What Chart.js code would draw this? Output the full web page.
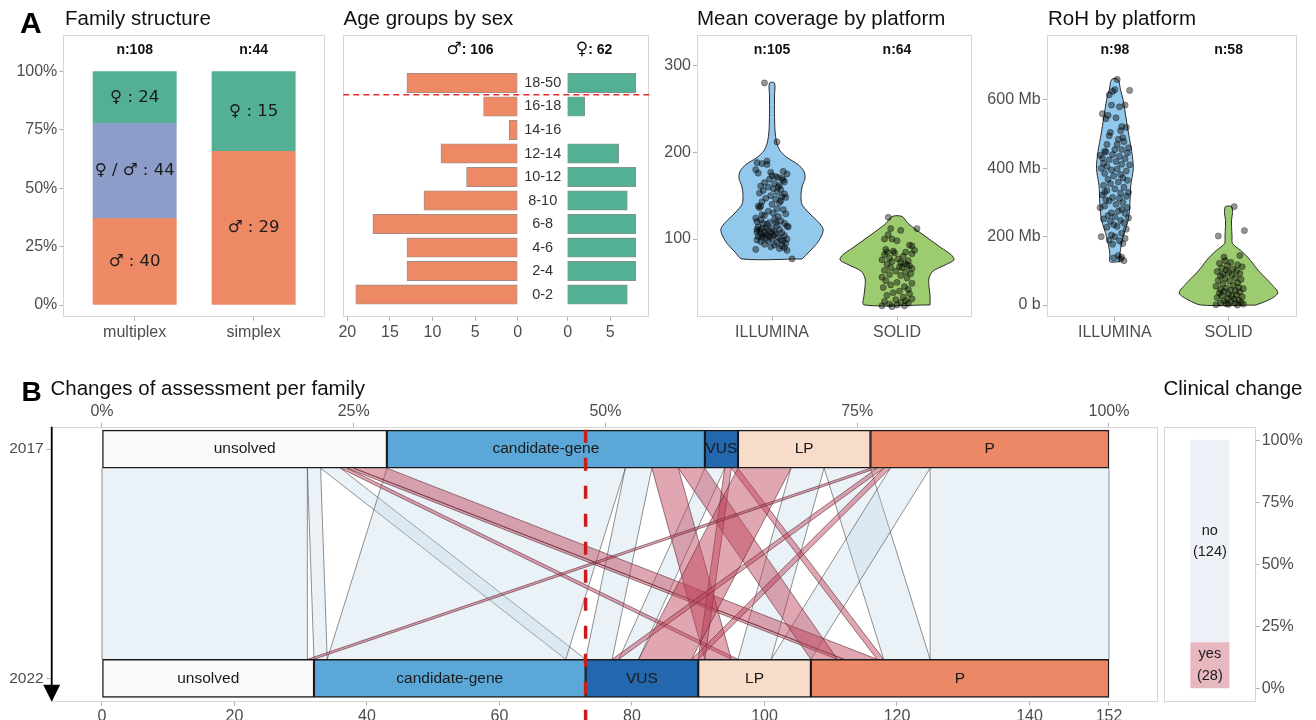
<!DOCTYPE html>
<html>
<head>
<meta charset="utf-8">
<script src="https://cdn.jsdelivr.net/npm/chart.js@4/dist/chart.umd.min.js"></script>
<style>
html,body{margin:0;padding:0;background:#ffffff;}
#wrap{position:relative;width:1316px;height:720px;overflow:hidden;background:#fff;font-family:"Liberation Sans",Arial,sans-serif;}
#wrap canvas{position:absolute;}
.t{position:absolute;white-space:nowrap;line-height:1;color:#111;font-size:20.5px;}
.big{font-weight:bold;color:#000;}
</style>
</head>
<body>
<div id="wrap">
  <canvas id="cFam" width="340" height="345" style="left:0px;top:0px"></canvas>
  <canvas id="cAge" width="330" height="345" style="left:330px;top:0px"></canvas>
  <canvas id="cCov" width="330" height="345" style="left:655px;top:0px"></canvas>
  <canvas id="cRoh" width="331" height="345" style="left:985px;top:0px"></canvas>
  <canvas id="cAll" width="1160" height="350" style="left:0px;top:370px"></canvas>
  <canvas id="cCli" width="156" height="350" style="left:1160px;top:370px"></canvas>

  <div class="t big" style="left:20px;top:8px;font-size:30px">A</div>
  <div class="t" style="left:65px;top:7.7px">Family structure</div>
  <div class="t" style="left:343.5px;top:7.7px">Age groups by sex</div>
  <div class="t" style="left:697px;top:7.7px">Mean coverage by platform</div>
  <div class="t" style="left:1048px;top:7.7px">RoH by platform</div>
  <div class="t big" style="left:21.5px;top:378px;font-size:28px">B</div>
  <div class="t" style="left:50.5px;top:377.6px">Changes of assessment per family</div>
  <div class="t" style="left:1163.5px;top:377.6px">Clinical change</div>
</div>
<script>
// ===================== DATA =====================
// Family structure (counts)
const famGroups = ['multiplex', 'simplex'];
const famMale   = [40, 29];
const famMixed  = [44, 0];
const famFemale = [24, 15];

// Age groups by sex (counts)
const ageGroups = ['18-50','16-18','14-16','12-14','10-12','8-10','6-8','4-6','2-4','0-2'];
const ageMale   = [13, 4, 1, 9, 6, 11, 17, 13, 13, 19];
const ageFemale = [ 8, 2, 0, 6, 8,  7,  8,  8,  8,  7];

// Platforms
const platforms = ['ILLUMINA', 'SOLID'];

// Mean coverage points: [jitter, coverage]
const covIllumina = [[-0.06,280],[0.04,212],[-0.12,188],[-0.08,187],[-0.04,190],[-0.13,180],[-0.11,176],[0.12,175],[0.00,173],[0.03,172],
[0.05,171],[0.08,170],[-0.02,169],[0.09,168],[0.10,166],[-0.06,165],[0.02,164],[0.06,162],[-0.09,161],[-0.03,160],
[0.01,158],[0.07,157],[-0.07,156],[0.04,154],[-0.10,153],[0.10,152],[-0.01,150],[0.08,149],[0.11,148],[-0.05,147],
[0.03,146],[-0.08,143],[0.06,142],[0.00,140],[-0.11,138],[-0.09,138],[-0.10,136],[0.04,135],[0.09,134],[-0.03,132],
[0.01,130],[0.11,129],[-0.06,127],[0.05,126],[-0.13,124],[0.02,123],[-0.09,122],[0.07,121],[-0.12,120],[-0.02,119],
[0.10,118],[-0.07,118],[-0.04,117],[0.04,116],[0.12,115],[-0.11,114],[0.13,114],[-0.05,113],[0.00,112],[-0.08,112],
[0.06,111],[-0.10,110],[-0.03,110],[0.02,109],[-0.12,108],[-0.06,108],[0.08,107],[-0.01,107],[-0.09,106],[0.03,106],
[-0.04,105],[-0.07,104],[0.01,104],[0.10,104],[-0.11,103],[-0.02,103],[0.05,102],[-0.08,102],[-0.05,101],[0.00,100],
[0.12,100],[-0.12,99],[0.07,99],[-0.03,98],[0.09,98],[-0.09,97],[0.04,96],[0.11,95],[-0.06,94],[0.02,93],
[0.08,92],[-0.01,91],[0.10,90],[0.06,89],[-0.13,88],[0.12,87],[0.16,77],[-0.04,186],[0.09,178],[-0.01,177],
[0.05,160],[-0.08,128],[0.07,144],[-0.12,111],[0.03,119]];
const covSolid = [[-0.07,125],[0.16,112],[-0.05,112],[0.03,110],[-0.07,105],[-0.10,100],[-0.04,100],[0.00,98],[0.10,93],[0.12,92],
[-0.09,88],[0.14,87],[-0.03,86],[-0.08,85],[0.07,85],[-0.02,84],[0.12,83],[-0.10,82],[0.05,80],[-0.06,78],
[0.01,77],[-0.12,76],[0.09,75],[-0.04,74],[0.03,73],[0.06,72],[-0.08,71],[0.08,70],[0.10,69],[0.02,68],
[-0.05,67],[0.04,67],[0.12,66],[-0.10,64],[-0.01,63],[0.07,62],[0.11,60],[-0.06,59],[0.03,58],[-0.12,56],
[0.08,55],[-0.09,52],[0.00,50],[0.12,49],[-0.05,47],[0.06,45],[-0.11,44],[0.09,42],[0.02,40],[-0.03,38],
[0.10,37],[-0.08,35],[0.05,33],[0.12,31],[-0.01,30],[0.07,29],[-0.10,28],[0.03,27],[0.09,26],[-0.06,25],
[0.00,24],[-0.12,23],[0.06,23],[-0.04,22]];
// violin outlines: [coverage, half width]
const covViolinIllumina = [[77,0.24],[85,0.296],[95,0.36],[105,0.40],[112,0.408],[120,0.368],[130,0.296],[140,0.24],[150,0.232],[160,0.24],
[170,0.264],[178,0.256],[186,0.208],[194,0.12],[202,0.064],[212,0.036],[225,0.024],[245,0.02],[265,0.02],[280,0.02]];
const covViolinSolid = [[24,0.264],[35,0.264],[45,0.256],[55,0.256],[63,0.288],[70,0.384],[76,0.456],[82,0.432],[90,0.352],[100,0.256],
[110,0.16],[118,0.088],[126,0.04]];

// RoH points (Mb): [jitter, RoH]
const rohIllumina = [[0.02,660],[0.00,630],[0.13,628],[-0.02,625],[-0.05,615],[0.09,585],[-0.03,585],[0.04,580],[-0.11,560],[-0.08,545],
[-0.06,555],[0.01,548],[0.10,520],[0.06,522],[0.05,510],[-0.04,505],[0.07,490],[0.03,485],[0.08,478],[-0.07,470],
[0.12,460],[0.06,455],[0.00,455],[-0.09,450],[-0.08,448],[0.11,445],[-0.02,440],[-0.13,438],[0.04,435],[-0.11,430],
[0.09,428],[-0.05,425],[0.01,420],[-0.10,415],[0.06,412],[0.13,410],[-0.07,405],[-0.12,400],[0.02,398],[-0.03,395],
[0.10,392],[-0.09,385],[0.05,382],[-0.01,378],[0.07,372],[-0.06,368],[0.11,365],[0.03,360],[-0.04,355],[-0.10,350],
[0.08,345],[0.00,340],[-0.07,335],[0.12,330],[0.05,328],[-0.11,322],[0.10,318],[-0.02,315],[0.04,312],[-0.08,308],
[-0.05,305],[0.07,300],[0.01,295],[-0.09,290],[0.11,285],[-0.13,285],[0.06,280],[0.03,275],[-0.03,270],[0.09,268],
[-0.06,262],[0.00,258],[0.12,255],[-0.10,252],[0.05,248],[-0.04,245],[0.08,240],[-0.01,235],[0.02,230],[-0.07,228],
[0.10,222],[0.06,210],[-0.03,205],[0.00,200],[-0.12,200],[0.09,195],[-0.05,190],[0.04,188],[0.07,180],[-0.02,178],
[0.03,145],[0.06,140],[-0.01,138],[0.08,130],[0.05,135],[-0.09,330],[0.02,470],[-0.05,495]];
const rohSolid = [[0.05,288],[0.14,218],[-0.09,202],[0.10,145],[-0.04,140],[-0.03,130],[0.02,125],[-0.08,122],[0.08,118],[-0.01,115],
[0.12,112],[-0.06,108],[0.04,105],[-0.02,102],[0.07,100],[-0.10,98],[0.00,95],[0.10,92],[-0.05,90],[0.03,88],
[-0.07,85],[0.06,80],[-0.03,78],[0.11,75],[-0.09,72],[0.01,70],[0.08,65],[-0.05,62],[0.04,58],[-0.11,55],
[0.09,52],[-0.02,50],[0.13,48],[-0.07,45],[0.02,44],[0.06,42],[-0.04,40],[0.10,38],[-0.08,35],[0.00,32],
[0.07,30],[-0.06,28],[0.03,26],[0.12,24],[-0.10,22],[-0.01,20],[0.05,18],[0.09,15],[-0.04,12],[0.02,10],
[0.11,8],[-0.07,6],[0.06,5],[-0.02,4],[0.13,3],[0.00,2],[-0.11,1],[0.08,0]];
const rohViolinIllumina = [[127,0.044],[150,0.044],[200,0.073],[250,0.118],[300,0.133],[350,0.14],[400,0.162],[450,0.148],[500,0.121],[550,0.097],
[600,0.073],[630,0.049],[660,0.028]];
const rohViolinSolid = [[0,0.239],[15,0.354],[35,0.434],[60,0.381],[100,0.265],[130,0.195],[145,0.155],[160,0.106],[180,0.035],[200,0.031],
[230,0.027],[250,0.027],[270,0.035],[288,0.027]];

// Changes of assessment: [class 2017, class 2022, families, clinical change], listed in 2017 stacking order
const classes = ['unsolved','candidate-gene','VUS','LP','P'];
const years = ['2017','2022'];
const flows = [
  ['unsolved','unsolved',31,'no'],
  ['unsolved','candidate-gene',2,'no'],
  ['unsolved','candidate-gene',3,'no'],
  ['unsolved','LP',1,'yes'],
  ['unsolved','P',1,'yes'],
  ['unsolved','P',5,'yes'],
  ['candidate-gene','candidate-gene',36,'no'],
  ['candidate-gene','VUS',4,'no'],
  ['candidate-gene','LP',4,'yes'],
  ['candidate-gene','P',4,'yes'],
  ['VUS','VUS',3,'no'],
  ['VUS','LP',1,'yes'],
  ['VUS','P',1,'yes'],
  ['LP','VUS',8,'yes'],
  ['LP','LP',5,'no'],
  ['LP','P',7,'no'],
  ['P','unsolved',1,'yes'],
  ['P','VUS',1,'yes'],
  ['P','VUS',1,'yes'],
  ['P','LP',6,'no'],
  ['P','P',27,'no']
];
// stacking order of the flows inside the 2022 bar
const order2022 = [0,16, 1,6,2, 7,17,10,13,18, 11,8,3,14,19, 9,4,5,12,15,20];
const dashedAt = 73;
const countTicks = [0,20,40,60,80,100,120,140,152];
const pctTicks = [0,25,50,75,100];

// ===================== STYLE =====================
Chart.defaults.animation = false;
Chart.defaults.responsive = false;
Chart.defaults.devicePixelRatio = 1;
Chart.defaults.font.family = '"Liberation Sans", Arial, sans-serif';
Chart.defaults.plugins.legend.display = false;
Chart.defaults.plugins.tooltip.enabled = false;

const GRAY = '#4d4d4d', FRAME = '#d6d6d6', TICKC = '#b0b0b0';
const C_MALE = '#EE8966', C_MIX = '#8C9DC9', C_FEM = '#53B094';
const classColors = ['#FAFAFA', '#5BA8D8', '#2367AE', '#F8DCCA', '#EC8866'];
const fixW = w => s => { s.width = w; };
const fixH = h => s => { s.height = h; };
const setTicks = arr => s => { s.ticks = arr.map(v => ({ value: v })); };
const grid = { drawOnChartArea: false, drawTicks: true, tickLength: 4, tickColor: TICKC, color: TICKC, offset: false };
const tk = (size, extra) => Object.assign({ color: GRAY, font: { size: size }, padding: 2, autoSkip: false, maxRotation: 0 }, extra || {});

function framePlugin(color) {
  return { id: 'frame', beforeDatasetsDraw(chart) {
    const a = chart.chartArea, ctx = chart.ctx;
    ctx.save(); ctx.strokeStyle = color || FRAME; ctx.lineWidth = 1;
    ctx.strokeRect(Math.round(a.left) + 0.5, Math.round(a.top) + 0.5, Math.round(a.right - a.left) - 1, Math.round(a.bottom - a.top) - 1);
    ctx.restore();
  } };
}
function segLabels(font, lineH) {
  return { id: 'segLabels', afterDatasetsDraw(chart) {
    const ctx = chart.ctx; ctx.save();
    ctx.font = font; ctx.fillStyle = '#1a1a1a'; ctx.textAlign = 'center'; ctx.textBaseline = 'middle';
    chart.data.datasets.forEach((ds, di) => {
      if (!ds.segText) return;
      chart.getDatasetMeta(di).data.forEach((el, i) => {
        const t = ds.segText[i]; if (!t) return;
        const p = el.getCenterPoint();
        const lines = t.split('\n');
        lines.forEach((ln, k) => ctx.fillText(ln, p.x, p.y + (k - (lines.length - 1) / 2) * (lineH || 20)));
      });
    });
    ctx.restore();
  } };
}
function topLabels(items, baseline) {
  // items: [[xValue, symbol, text], ...] ; symbol drawn in a symbol font, text in bold
  const symFont = '17px "DejaVu Sans", sans-serif';
  const txtFont = 'bold 14px "Liberation Sans", sans-serif';
  return { id: 'topLabels', afterDatasetsDraw(chart) {
    const ctx = chart.ctx, xs = chart.scales.x; ctx.save();
    ctx.fillStyle = '#111'; ctx.textAlign = 'left'; ctx.textBaseline = 'alphabetic';
    items.forEach(([xv, sym, t]) => {
      ctx.font = symFont; const w1 = sym ? ctx.measureText(sym).width : 0;
      ctx.font = txtFont; const w2 = ctx.measureText(t).width;
      let x = xs.getPixelForValue(xv) - (w1 + w2) / 2;
      if (sym) { ctx.font = symFont; ctx.fillText(sym, x, baseline); x += w1; }
      ctx.font = txtFont; ctx.fillText(t, x, baseline);
    });
    ctx.restore();
  } };
}
const sum = a => a.reduce((s, v) => s + v, 0);

// ===================== FAMILY STRUCTURE =====================
const famTot = famGroups.map((g, i) => famMale[i] + famMixed[i] + famFemale[i]);
const famSeries = [
  { vals: famMale, color: C_MALE, txt: v => '♂ : ' + v },
  { vals: famMixed, color: C_MIX, txt: v => '♀ / ♂ : ' + v },
  { vals: famFemale, color: C_FEM, txt: v => '♀ : ' + v }
];
new Chart(document.getElementById('cFam'), {
  type: 'bar',
  data: { datasets: famSeries.map(s => ({
    data: famGroups.map((g, i) => ({ x: i + 1, y: s.vals[i] ? s.vals[i] / famTot[i] * 100 : null })),
    backgroundColor: s.color, borderWidth: 0, barThickness: 83.3,
    segText: s.vals.map(v => v ? s.txt(v) : '')
  })) },
  options: {
    layout: { padding: { top: 35, right: 15, left: 0, bottom: 0 } },
    scales: {
      x: { type: 'linear', offset: false, min: 0.4, max: 2.6, stacked: true, afterBuildTicks: setTicks([1, 2]), afterFit: fixH(28.3),
           ticks: tk(16, { callback: v => famGroups[Math.round(v) - 1] }), grid: grid, border: { display: false } },
      y: { type: 'linear', offset: false, min: -5, max: 115.7, stacked: true, afterBuildTicks: setTicks(pctTicks), afterFit: fixW(63.3),
           ticks: tk(16, { callback: v => v + '%' }), grid: grid, border: { display: false } }
    }
  },
  plugins: [framePlugin(), segLabels('16.5px "DejaVu Sans", sans-serif'),
            topLabels(famGroups.map((g, i) => [i + 1, '', 'n:' + famTot[i]]), 54.3)]
});

// ===================== AGE GROUPS =====================
const GAP = 5.87; // space for the age labels between the two halves
new Chart(document.getElementById('cAge'), {
  type: 'bar',
  data: { datasets: [
    { data: ageGroups.map((g, i) => ({ y: i, x: [-ageMale[i], 0] })).filter(d => d.x[0] < d.x[1]),
      backgroundColor: C_MALE, borderColor: '#8e8e8e', borderWidth: 0.8, borderSkipped: false },
    { data: ageGroups.map((g, i) => ({ y: i, x: [GAP, GAP + ageFemale[i]] })).filter(d => d.x[0] < d.x[1]),
      backgroundColor: C_FEM, borderColor: '#8e8e8e', borderWidth: 0.8, borderSkipped: false }
  ] },
  options: {
    indexAxis: 'y',
    datasets: { bar: { barThickness: 19.3, grouped: false } },
    layout: { padding: { top: 35, right: 10.7, left: 13.3, bottom: 0 } },
    scales: {
      x: { type: 'linear', offset: false, min: -20.47, max: GAP + 9.58, afterBuildTicks: setTicks([-20, -15, -10, -5, 0, GAP, GAP + 5]), afterFit: fixH(28.3),
           ticks: tk(16, { callback: v => v <= 0.001 ? String(Math.round(-v)) : String(Math.round(v - GAP)) }), grid: grid, border: { display: false } },
      y: { type: 'linear', offset: false, reverse: true, min: -2.04, max: 9.94, display: false }
    }
  },
  plugins: [framePlugin(),
    { id: 'ageDeco', afterDatasetsDraw(chart) {
      const ctx = chart.ctx, xs = chart.scales.x, ys = chart.scales.y, a = chart.chartArea;
      ctx.save();
      ctx.font = '14.5px "Liberation Sans", sans-serif'; ctx.fillStyle = '#333'; ctx.textAlign = 'center'; ctx.textBaseline = 'middle';
      ageGroups.forEach((g, i) => ctx.fillText(g, xs.getPixelForValue(GAP / 2), ys.getPixelForValue(i)));
      ctx.strokeStyle = '#EE2A2A'; ctx.lineWidth = 1.5; ctx.setLineDash([6, 4]);
      const yl = ys.getPixelForValue(0.5);
      ctx.beginPath(); ctx.moveTo(a.left, yl); ctx.lineTo(a.right, yl); ctx.stroke();
      ctx.restore();
    } },
    topLabels([[-5.6, '♂', ': ' + sum(ageMale)], [GAP + 3.1, '♀', ': ' + sum(ageFemale)]], 54.3)]
});

// ===================== VIOLINS =====================
function violinLoop(center, prof) {
  const right = prof.map(([v, h]) => ({ x: center + h, y: v }));
  const left = prof.slice().reverse().map(([v, h]) => ({ x: center - h, y: v }));
  return right.concat(left, [right[0]]);
}
function violinChart(id, pts1, pts2, vio1, vio2, yMin, yMax, yTicks, yFmt, yW, padR) {
  const pointStyle = { backgroundColor: 'rgba(0,0,0,0.42)', borderColor: 'rgba(0,0,0,0.5)', borderWidth: 0.6, pointRadius: 3.1, order: 1 };
  const vioStyle = { type: 'line', fill: 'shape', borderColor: '#2b2b2b', borderWidth: 1, pointRadius: 0, tension: 0.3, order: 2 };
  new Chart(document.getElementById(id), {
    type: 'scatter',
    data: { datasets: [
      Object.assign({ data: pts1.map(([d, v]) => ({ x: 1 + d, y: v })) }, pointStyle),
      Object.assign({ data: pts2.map(([d, v]) => ({ x: 2 + d, y: v })) }, pointStyle),
      Object.assign({ data: violinLoop(1, vio1), backgroundColor: '#92C8EB' }, vioStyle),
      Object.assign({ data: violinLoop(2, vio2), backgroundColor: '#9DCB70' }, vioStyle)
    ] },
    options: {
      layout: { padding: { top: 35, right: padR, left: 0, bottom: 0 } },
      scales: {
        x: { type: 'linear', offset: false, min: 0.4, max: 2.6, afterBuildTicks: setTicks([1, 2]), afterFit: fixH(28.3),
             ticks: tk(16, { callback: v => platforms[Math.round(v) - 1] }), grid: grid, border: { display: false } },
        y: { type: 'linear', offset: false, min: yMin, max: yMax, afterBuildTicks: setTicks(yTicks), afterFit: fixW(yW),
             ticks: tk(16, { callback: yFmt }), grid: grid, border: { display: false } }
      }
    },
    plugins: [framePlugin(), topLabels([[1, '', 'n:' + pts1.length], [2, '', 'n:' + pts2.length]], 54.3)]
  });
}
violinChart('cCov', covIllumina, covSolid, covViolinIllumina, covViolinSolid, 10.4, 335.3, [100, 200, 300], v => String(v), 42, 13);
violinChart('cRoh', rohIllumina, rohSolid, rohViolinIllumina, rohViolinSolid, -34, 790, [0, 200, 400, 600], v => v === 0 ? '0 b' : v + ' Mb', 61.7, 19.3);

// ===================== ALLUVIAL =====================
const tot17 = classes.map(c => sum(flows.filter(f => f[0] === c).map(f => f[2])));
const tot22 = classes.map(c => sum(flows.filter(f => f[1] === c).map(f => f[2])));
const cum = arr => arr.map((v, i) => sum(arr.slice(0, i)));
const start17 = cum(tot17), start22 = cum(tot22);
const TOTAL = sum(tot17);
const flowPos = [];
(function () {
  const o17 = start17.slice(), o22 = start22.slice();
  flows.forEach((f, i) => { const k = classes.indexOf(f[0]); flowPos[i] = { top: o17[k] }; o17[k] += f[2]; });
  order2022.forEach(i => { const f = flows[i]; const k = classes.indexOf(f[1]); flowPos[i].bot = o22[k]; o22[k] += f[2]; });
})();
const BAR_B = 38;
new Chart(document.getElementById('cAll'), {
  type: 'bar',
  data: { datasets: classes.map((c, k) => ({
    data: [{ y: 0, x: [start17[k], start17[k] + tot17[k]] }, { y: 1, x: [start22[k], start22[k] + tot22[k]] }],
    backgroundColor: classColors[k], borderColor: '#1a1a1a', borderWidth: 1.4, borderSkipped: false,
    segText: [c, c]
  })) },
  options: {
    indexAxis: 'y',
    datasets: { bar: { barThickness: BAR_B, grouped: false } },
    layout: { padding: { top: 0, right: 2, left: 0, bottom: 0 } },
    scales: {
      x: { type: 'linear', offset: false, position: 'bottom', min: -7.59, max: 159.4, afterBuildTicks: setTicks(countTicks), afterFit: fixH(18.3),
           ticks: tk(16, { padding: 1 }), grid: grid, border: { display: false } },
      x2: { type: 'linear', offset: false, position: 'top', min: -7.59 / TOTAL * 100, max: 159.4 / TOTAL * 100, afterBuildTicks: setTicks(pctTicks), afterFit: fixH(56.7),
           ticks: tk(16, { callback: v => v + '%' }), grid: grid, border: { display: false } },
      y: { type: 'linear', offset: false, reverse: true, min: -0.098, max: 1.102, afterBuildTicks: setTicks([0, 1]), afterFit: fixW(51.7),
           ticks: tk(15.5, { callback: v => years[Math.round(v)], padding: 3 }), grid: Object.assign({}, grid, { tickLength: 5 }), border: { display: false } }
    }
  },
  plugins: [framePlugin(),
    { id: 'alluvial', beforeDatasetsDraw(chart) {
      const ctx = chart.ctx, xs = chart.scales.x, ys = chart.scales.y;
      const yt = ys.getPixelForValue(0) + BAR_B / 2, yb = ys.getPixelForValue(1) - BAR_B / 2;
      ctx.save();
      ['no', 'yes'].forEach(kind => {
        flows.forEach((f, i) => {
          if (f[3] !== kind) return;
          const p = flowPos[i];
          const a = xs.getPixelForValue(p.top), b = xs.getPixelForValue(p.top + f[2]);
          const c = xs.getPixelForValue(p.bot + f[2]), d = xs.getPixelForValue(p.bot);
          ctx.beginPath(); ctx.moveTo(a, yt); ctx.lineTo(b, yt); ctx.lineTo(c, yb); ctx.lineTo(d, yb); ctx.closePath();
          ctx.fillStyle = kind === 'yes' ? 'rgba(190,66,90,0.47)' : 'rgba(185,209,229,0.30)';
          ctx.fill();
          ctx.beginPath(); ctx.moveTo(a, yt); ctx.lineTo(d, yb); ctx.moveTo(b, yt); ctx.lineTo(c, yb);
          ctx.strokeStyle = kind === 'yes' ? 'rgba(90,40,50,0.75)' : 'rgba(60,60,60,0.7)'; ctx.lineWidth = 0.8; ctx.stroke();
        });
      });
      ctx.restore();
    },
    afterDatasetsDraw(chart) {
      const ctx = chart.ctx, xs = chart.scales.x, a = chart.chartArea;
      ctx.save();
      // reference line
      ctx.strokeStyle = '#CC1B1B'; ctx.lineWidth = 3.5; ctx.setLineDash([13, 15]);
      const xd = xs.getPixelForValue(dashedAt);
      ctx.beginPath(); ctx.moveTo(xd, a.top + 3); ctx.lineTo(xd, chart.height); ctx.stroke();
      ctx.setLineDash([]);
      // time arrow
      ctx.strokeStyle = '#000'; ctx.fillStyle = '#000'; ctx.lineWidth = 1.8;
      ctx.beginPath(); ctx.moveTo(a.left, a.top); ctx.lineTo(a.left, a.bottom - 14); ctx.stroke();
      ctx.beginPath(); ctx.moveTo(a.left - 8.5, a.bottom - 17); ctx.lineTo(a.left + 8.5, a.bottom - 17); ctx.lineTo(a.left, a.bottom); ctx.closePath(); ctx.fill();
      ctx.restore();
    } },
    segLabels('15.5px "Liberation Sans", sans-serif')]
});

// ===================== CLINICAL CHANGE =====================
const nYes = sum(flows.filter(f => f[3] === 'yes').map(f => f[2]));
const nNo = sum(flows.filter(f => f[3] === 'no').map(f => f[2]));
new Chart(document.getElementById('cCli'), {
  type: 'bar',
  data: { labels: [''], datasets: [
    { data: [nYes / TOTAL * 100], backgroundColor: '#E7B8BF', segText: ['yes\n(' + nYes + ')'] },
    { data: [nNo / TOTAL * 100], backgroundColor: '#EEF2F8', segText: ['no\n(' + nNo + ')'] }
  ] },
  options: {
    datasets: { bar: { barThickness: 38.3, borderWidth: 0 } },
    layout: { padding: { top: 56.7, right: 0, left: 4, bottom: 18.3 } },
    scales: {
      x: { stacked: true, display: false },
      y: { stacked: true, position: 'right', min: -5.4, max: 105.4, afterBuildTicks: setTicks(pctTicks), afterFit: fixW(60.3),
           ticks: tk(16, { callback: v => v + '%' }), grid: grid, border: { display: false } }
    }
  },
  plugins: [framePlugin(), segLabels('14.5px "Liberation Sans", sans-serif', 21.6)]
});
</script>
</body>
</html>
